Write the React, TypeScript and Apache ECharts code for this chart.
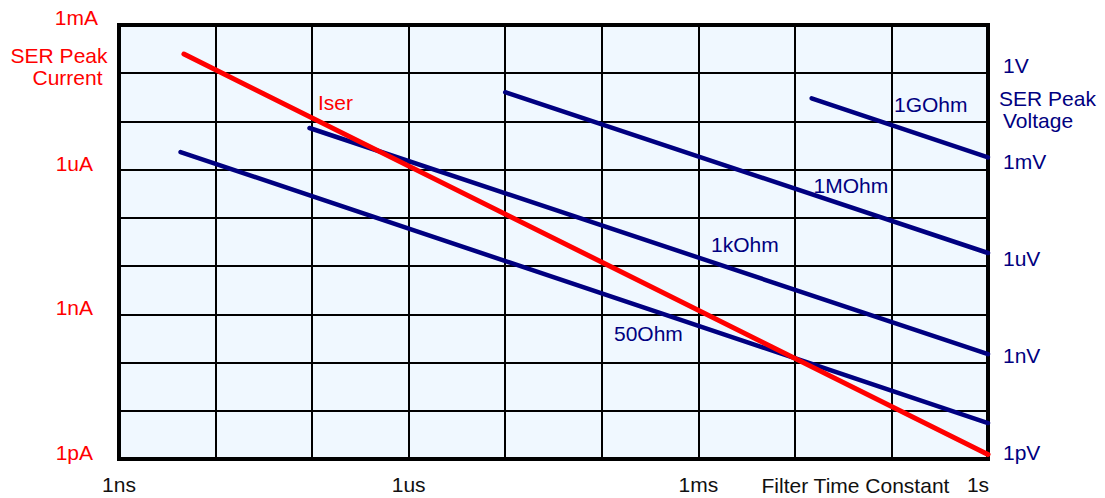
import React, { useEffect, useRef } from "react";
import * as echarts from "echarts";

const FONT = "'Liberation Sans', Arial, Helvetica, sans-serif";
const RED = "#ff0000";
const NAVY = "#000080";
const FS = 21;

// Tick labels (exponents of 10)
const timeTickExps = [-9, -6, -3, 0];
const timeTickLabels = ["1ns", "1us", "1ms", "1s"];
const currentTickExps = [-3, -6, -9, -12];
const currentTickLabels = ["1mA", "1uA", "1nA", "1pA"];
const voltageTickExps = [0, -3, -6, -9, -12];
const voltageTickLabels = ["1V", "1mV", "1uV", "1nV", "1pV"];

// Series (time in s, value on the current axis in A)
const iserTime = [4.7e-9, 1];
const iserCurrent = [2.5e-4, 1.24e-12];
const ohm50Time = [4.34e-9, 1];
const ohm50Current = [2.32e-6, 5.57e-12];
const ohm1kTime = [9.4e-8, 1];
const ohm1kCurrent = [7.31e-6, 1.5e-10];
const ohm1MTime = [1e-5, 1];
const ohm1MCurrent = [4.04e-5, 1.87e-8];
const ohm1GTime = [1.49e-2, 1];
const ohm1GCurrent = [3.02e-5, 1.8e-6];

const seriesNames = ["Iser", "50Ohm", "1kOhm", "1MOhm", "1GOhm"];

const exp = (v: number) => Math.round(Math.log10(v));
const pairs = (xs: number[], ys: number[]) => xs.map((x, i) => [x, ys[i]]);

export default function App() {
  const ref = useRef<HTMLDivElement>(null);
  useEffect(() => {
    if (!ref.current) return;
    const chart = echarts.init(ref.current, null, { renderer: "svg" });
    const lineSeries = (name: string, data: number[][], color: string, width: number) => ({
      name,
      type: "line",
      data,
      symbol: "none",
      silent: true,
      clip: false,
      z: 5,
      lineStyle: { color, width, cap: "round" },
    });
    const txt = (text: string, x: number, y: number, fill: string, align = "left") => ({
      type: "text",
      x,
      y,
      silent: true,
      z: 10,
      style: {
        text,
        fill,
        fontSize: FS,
        fontFamily: FONT,
        align,
        verticalAlign: "middle",
      },
    });
    chart.setOption({
      animation: false,
      backgroundColor: "#ffffff",
      grid: {
        left: 119,
        right: 117,
        top: 25,
        bottom: 39,
        show: true,
        backgroundColor: "#f0f8ff",
        borderColor: "#000000",
        borderWidth: 4,
      },
      xAxis: {
        type: "log",
        logBase: 10,
        min: 1e-9,
        max: 1,
        axisLine: { show: false },
        axisTick: { show: false },
        splitLine: { show: true, lineStyle: { color: "#000", width: 2 } },
        axisLabel: {
          show: true,
          showMinLabel: true,
          showMaxLabel: true,
          margin: 15,
          color: "#111",
          fontSize: FS,
          fontFamily: FONT,
          formatter: (v: number) => {
            const i = timeTickExps.indexOf(exp(v));
            if (i < 0) return "";
            if (timeTickExps[i] === 0) return "{r|" + timeTickLabels[i] + "}";
            return timeTickLabels[i];
          },
          rich: {
            r: { padding: [0, 20, 0, 0], fontSize: FS, fontFamily: FONT, color: "#111" },
          },
        },
      },
      yAxis: [
        {
          type: "log",
          logBase: 10,
          min: 1e-12,
          max: 1e-3,
          position: "left",
          axisLine: { show: false },
          axisTick: { show: false },
          splitLine: { show: true, lineStyle: { color: "#000", width: 2 } },
          axisLabel: {
            showMinLabel: true,
            showMaxLabel: true,
            margin: 21,
            color: RED,
            fontSize: FS,
            fontFamily: FONT,
            formatter: (v: number) => {
              const e = exp(v);
              const i = currentTickExps.indexOf(e);
              if (i < 0) return "";
              return (e === -3 ? "{t|" : "{n|") + currentTickLabels[i] + "}";
            },
            rich: {
              n: { padding: [0, 5, 13, 0], fontSize: FS, fontFamily: FONT, color: RED },
              t: { padding: [0, 0, 15, 0], fontSize: FS, fontFamily: FONT, color: RED },
            },
          },
        },
        {
          type: "value",
          min: -12,
          max: 1.44,
          interval: 3,
          position: "right",
          axisLine: { show: false },
          axisTick: { show: false },
          splitLine: { show: false },
          axisLabel: {
            showMinLabel: true,
            showMaxLabel: true,
            margin: 15,
            color: NAVY,
            fontSize: FS,
            fontFamily: FONT,
            formatter: (v: number) => {
              const i = voltageTickExps.indexOf(Math.round(v * 1000) / 1000);
              if (i < 0) return "";
              return "{n|" + voltageTickLabels[i] + "}";
            },
            rich: {
              n: { padding: [0, 0, 13, 0], fontSize: FS, fontFamily: FONT, color: NAVY },
            },
          },
        },
      ],
      series: [
        lineSeries(seriesNames[1], pairs(ohm50Time, ohm50Current), NAVY, 4.5),
        lineSeries(seriesNames[2], pairs(ohm1kTime, ohm1kCurrent), NAVY, 4.5),
        lineSeries(seriesNames[3], pairs(ohm1MTime, ohm1MCurrent), NAVY, 4.5),
        lineSeries(seriesNames[4], pairs(ohm1GTime, ohm1GCurrent), NAVY, 4.5),
        lineSeries(seriesNames[0], pairs(iserTime, iserCurrent), RED, 5),
      ],
      graphic: [
        txt("SER Peak", 107.5, 55, RED, "right"),
        txt("Current", 102.5, 77, RED, "right"),
        txt("SER Peak", 999, 98.5, NAVY),
        txt("Voltage", 1003, 120.5, NAVY),
        txt("Filter Time Constant", 761.5, 485, "#111"),
        txt(seriesNames[0], 318, 102.5, RED),
        txt(seriesNames[1], 614, 333, NAVY),
        txt(seriesNames[2], 711, 244, NAVY),
        txt(seriesNames[3], 813.5, 185, NAVY),
        txt(seriesNames[4], 894, 104.5, NAVY),
      ],
    });
    return () => chart.dispose();
  }, []);
  return (
    <div
      ref={ref}
      style={{ position: "fixed", left: 0, top: 0, width: 1105, height: 498, background: "#fff" }}
    />
  );
}
